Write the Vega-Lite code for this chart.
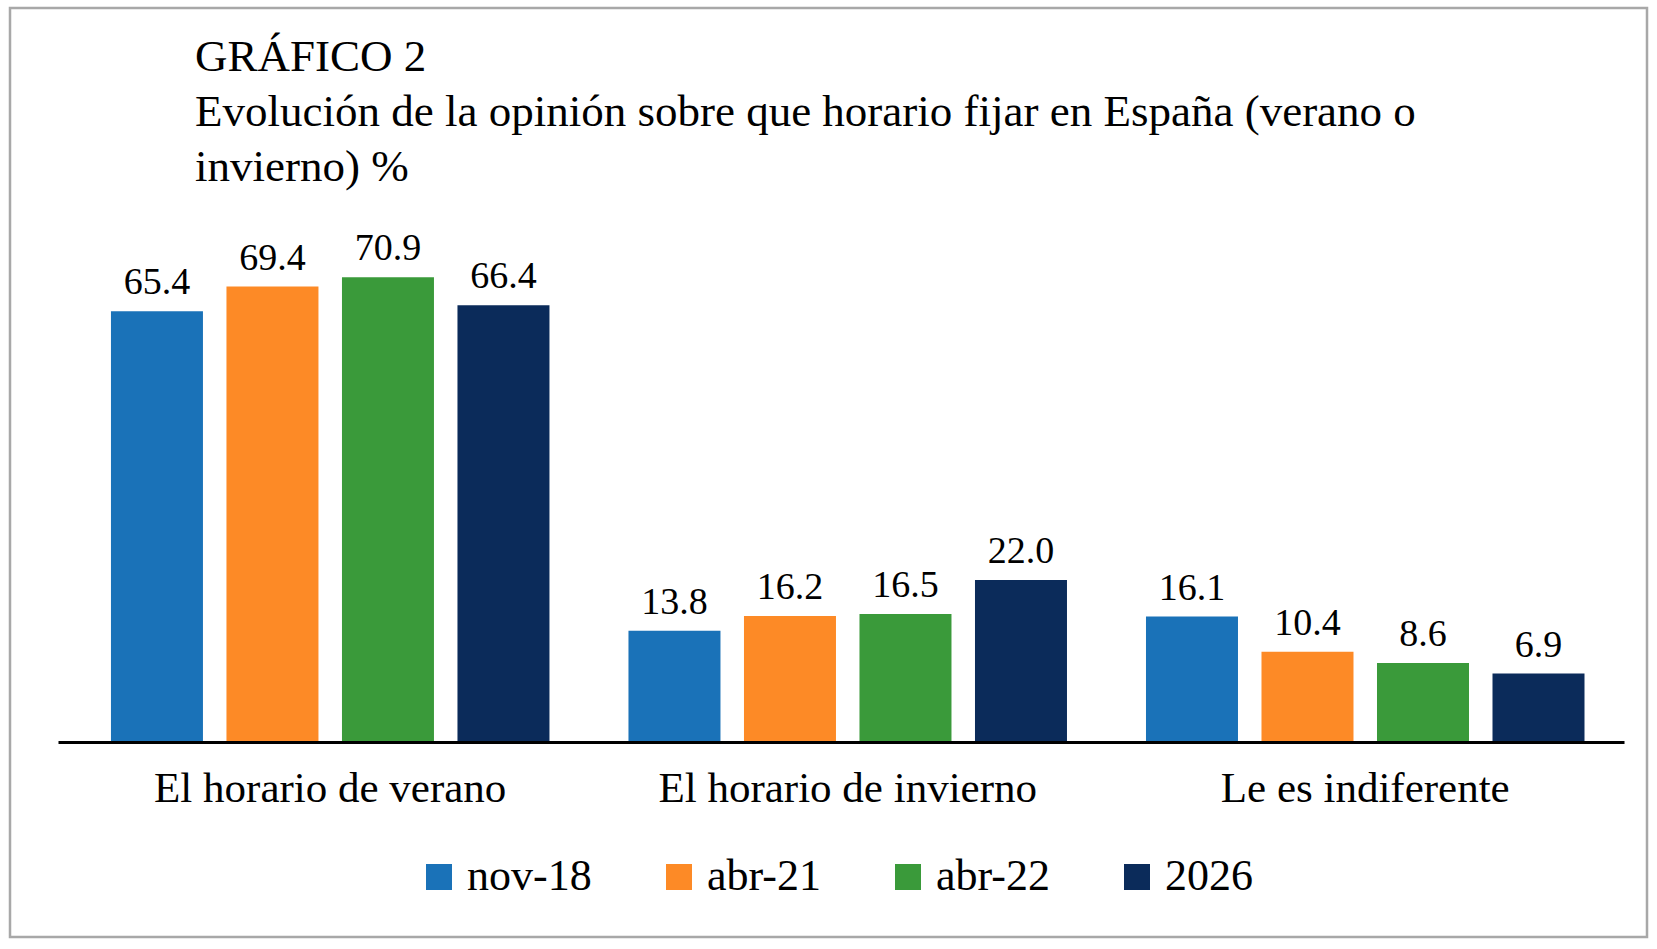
{
  "$schema": "https://vega.github.io/schema/vega-lite/v6.json",
  "width": 1637,
  "height": 929,
  "autosize": "none",
  "padding": {"left": 10, "top": 8, "right": 10, "bottom": 12},
  "background": "white",
  "title": {
    "text": [
      "GRÁFICO 2",
      "Evolución de la opinión sobre que horario fijar en España (verano o",
      "invierno) %"
    ],
    "anchor": "start",
    "frame": "group",
    "orient": "top",
    "offset": 0,
    "dx": 185,
    "dy": 182,
    "baseline": "top",
    "font": "Liberation Serif",
    "fontSize": 45,
    "fontWeight": "normal",
    "color": "black",
    "lineHeight": 55
  },
  "data": {
    "values": [
      {"respuesta": "El horario de verano", "oleada": "nov-18", "pct": 65.4},
      {"respuesta": "El horario de verano", "oleada": "abr-21", "pct": 69.4},
      {"respuesta": "El horario de verano", "oleada": "abr-22", "pct": 70.9},
      {"respuesta": "El horario de verano", "oleada": "2026", "pct": 66.4},
      {"respuesta": "El horario de invierno", "oleada": "nov-18", "pct": 13.8},
      {"respuesta": "El horario de invierno", "oleada": "abr-21", "pct": 16.2},
      {"respuesta": "El horario de invierno", "oleada": "abr-22", "pct": 16.5},
      {"respuesta": "El horario de invierno", "oleada": "2026", "pct": 22.0},
      {"respuesta": "Le es indiferente", "oleada": "nov-18", "pct": 16.1},
      {"respuesta": "Le es indiferente", "oleada": "abr-21", "pct": 10.4},
      {"respuesta": "Le es indiferente", "oleada": "abr-22", "pct": 8.6},
      {"respuesta": "Le es indiferente", "oleada": "2026", "pct": 6.9}
    ]
  },
  "encoding": {
    "x": {
      "field": "respuesta",
      "type": "nominal",
      "sort": null,
      "scale": {"range": [48, 1614], "paddingInner": 0, "paddingOuter": 0.013, "align": 1},
      "axis": {
        "title": null,
        "labelAngle": 0,
        "labelLimit": 0,
        "labelFont": "Liberation Serif",
        "labelFontSize": 43,
        "labelColor": "black",
        "labelPadding": 25,
        "ticks": false,
        "tickSize": 0,
        "domainColor": "black",
        "domainWidth": 3,
        "offset": -195,
        "grid": false
      }
    },
    "xOffset": {
      "field": "oleada",
      "type": "nominal",
      "sort": ["nov-18", "abr-21", "abr-22", "2026"],
      "scale": {"paddingInner": 0.2035, "paddingOuter": 0.342}
    },
    "y": {
      "field": "pct",
      "type": "quantitative",
      "scale": {"domain": [-4, 114.4], "range": [733, 0], "zero": false, "nice": false},
      "axis": null
    }
  },
  "layer": [
    {
      "mark": {"type": "bar"},
      "encoding": {
        "y2": {"datum": -4},
        "color": {
          "field": "oleada",
          "type": "nominal",
          "sort": ["nov-18", "abr-21", "abr-22", "2026"],
          "scale": {
            "domain": ["nov-18", "abr-21", "abr-22", "2026"],
            "range": ["#1a72b8", "#fd8a26", "#3a9a3a", "#0b2b5a"]
          },
          "legend": {
            "title": null,
            "orient": "none",
            "legendX": 407,
            "legendY": 847,
            "direction": "horizontal",
            "symbolType": "square",
            "symbolSize": 676,
            "symbolStrokeWidth": 0,
            "labelFont": "Liberation Serif",
            "labelFontSize": 44,
            "labelColor": "black",
            "labelOffset": 6,
            "labelLimit": 0,
            "columnPadding": 65,
            "padding": 0
          }
        }
      }
    },
    {
      "mark": {
        "type": "text",
        "dy": -17,
        "baseline": "alphabetic",
        "font": "Liberation Serif",
        "fontSize": 38,
        "color": "black"
      },
      "encoding": {
        "text": {"field": "pct", "type": "quantitative", "format": ".1f"}
      }
    }
  ],
  "config": {
    "view": {"stroke": "#a8a8a8", "strokeWidth": 2.5}
  }
}
